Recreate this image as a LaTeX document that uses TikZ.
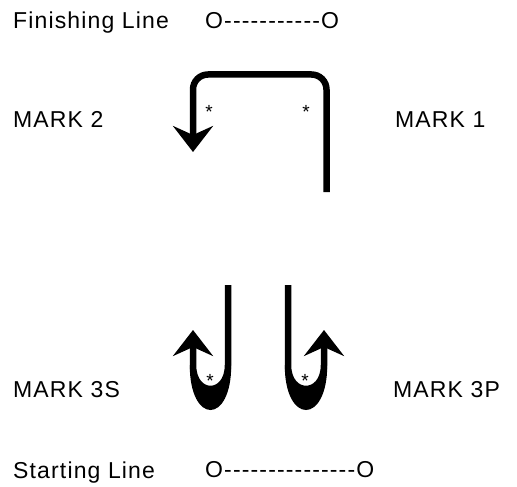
\documentclass[tikz,border=0pt]{standalone}
\usepackage{fontspec}
\setmainfont{Liberation Sans}[LetterSpace=5.0, Ligatures=TeXOff]
\usetikzlibrary{arrows.meta}
\begin{document}
\begin{tikzpicture}[x=1pt, y=-1pt,
    tag/.style={anchor=base west, inner sep=0pt, font=\fontsize{23}{26}\selectfont},
    buoy/.style={inner sep=0pt, font=\fontsize{19}{20}\selectfont},
    course/.style={line width=6.5pt},
    tip/.style={-{Stealth[length=26pt, width=40pt, inset=9pt]}}]
    \useasboundingbox (0,0) rectangle (517,487);

    \node[tag] (finish) at (13, 29) {Finishing Line};
    \node[tag] (finishline) at (205, 29) {O-----------O};
    \node[tag] (mark2) at (13, 127) {MARK 2};
    \node[tag] (mark1) at (395, 127) {MARK 1};
    \node[tag] (mark3s) at (13, 397) {MARK 3S};
    \node[tag] (mark3p) at (393, 397) {MARK 3P};
    \node[tag] (start) at (13, 478) {Starting Line};
    \node[tag] (startline) at (205, 477) {O---------------O};

    \node[buoy] (round1) at (306, 112) {*};
    \node[buoy] (round2) at (209, 112) {*};
    \node[buoy] (round3s) at (210, 381) {*};
    \node[buoy] (round3p) at (305, 381) {*};

    \coordinate (leg1) at (326.5, 192);
    \coordinate (leg2) at (193, 152);
    \coordinate (sfrom) at (228, 285);
    \coordinate (sto) at (193, 330);
    \coordinate (pfrom) at (288, 285);
    \coordinate (pto) at (324, 330);

    \draw[course, tip, rounded corners=15pt] (leg1) |- (193, 74.5) -- (leg2);

    \draw[course, tip] (sfrom) -- (228, 365) .. controls (228, 397) and (193, 397) .. (193, 365) -- (sto);
    \fill (231.25, 365) .. controls (231.25, 425) and (189.75, 425) .. (189.75, 365) -- (193, 365) .. controls (193, 397) and (228, 397) .. (228, 365) -- cycle;

    \draw[course, tip] (pfrom) -- (288, 365) .. controls (288, 397) and (324, 397) .. (324, 365) -- (pto);
    \fill (284.75, 365) .. controls (284.75, 425) and (327.25, 425) .. (327.25, 365) -- (324, 365) .. controls (324, 397) and (288, 397) .. (288, 365) -- cycle;
\end{tikzpicture}
\end{document}
